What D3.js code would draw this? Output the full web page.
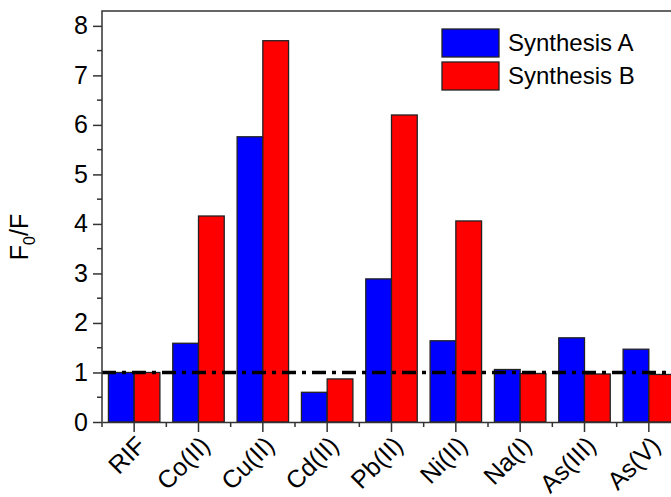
<!DOCTYPE html>
<html>
<head>
<meta charset="utf-8">
<script src="https://d3js.org/d3.v7.min.js"></script>
<style>
  body { margin: 0; background: #fff; }
  svg text { font-family: "Liberation Sans", Arial, sans-serif; fill: #000; }
</style>
</head>
<body>
<div id="chart"></div>
<script>
  // values
  const categories = ["RIF", "Co(II)", "Cu(II)", "Cd(II)", "Pb(II)", "Ni(II)", "Na(I)", "As(III)", "As(V)"];
  const synthesisA = [1.0, 1.59, 5.76, 0.60, 2.89, 1.64, 1.06, 1.70, 1.47];
  const synthesisB = [1.0, 4.16, 7.70, 0.87, 6.20, 4.06, 0.98, 0.97, 0.96];
  const seriesNames = ["Synthesis A", "Synthesis B"];
  const seriesColors = ["#0000ff", "#ff0000"];
  const yTicks = [0, 1, 2, 3, 4, 5, 6, 7, 8];
  const refLine = 1;

  const W = 671, H = 497;
  const mLeft = 102, mTop = 11, mRight = 681, mBottom = 422;

  const svg = d3.select("#chart").append("svg")
    .attr("width", W).attr("height", H);

  const x = d3.scaleBand().domain(categories).range([mLeft, mRight]).padding(0);
  const y = d3.scaleLinear().domain([0, 8.3]).range([mBottom, mTop]);
  const barW = x.bandwidth() * 0.4;

  // bars
  const series = [synthesisA, synthesisB];
  series.forEach((vals, s) => {
    svg.append("g").selectAll("rect")
      .data(vals)
      .enter().append("rect")
      .attr("x", (d, i) => x(categories[i]) + x.bandwidth() / 2 - barW + s * barW)
      .attr("y", d => y(d))
      .attr("width", barW)
      .attr("height", d => y(0) - y(d))
      .attr("fill", seriesColors[s])
      .attr("stroke", "#222")
      .attr("stroke-width", 1.3);
  });

  // reference line
  svg.append("line")
    .attr("x1", mLeft).attr("x2", W)
    .attr("y1", y(refLine)).attr("y2", y(refLine))
    .attr("stroke", "#000").attr("stroke-width", 3.5)
    .attr("stroke-dasharray", "14,6,4,6");

  // frame
  svg.append("path")
    .attr("d", `M${mLeft},${mBottom}V${mTop}H${W + 5}`)
    .attr("fill", "none").attr("stroke", "#333").attr("stroke-width", 1.5);

  // y axis
  const yAxis = svg.append("g")
    .attr("transform", `translate(${mLeft},0)`)
    .call(d3.axisLeft(y).tickValues(yTicks).tickSize(9).tickPadding(5).tickFormat(d3.format("d")));
  yAxis.select(".domain").remove();
  yAxis.selectAll("line").attr("stroke", "#333").attr("stroke-width", 1.5);
  yAxis.selectAll("text").style("font-size", "25px");
  const minorY = d3.range(0.5, 8.3, 1);
  svg.append("g").selectAll("line").data(minorY).enter().append("line")
    .attr("x1", mLeft - 5).attr("x2", mLeft)
    .attr("y1", d => y(d)).attr("y2", d => y(d))
    .attr("stroke", "#333").attr("stroke-width", 1.5);

  // x axis
  const xAxis = svg.append("g")
    .attr("transform", `translate(0,${mBottom})`)
    .call(d3.axisBottom(x).tickSize(10).tickSizeOuter(0));
  xAxis.select(".domain").attr("stroke", "#333").attr("stroke-width", 1.5);
  xAxis.selectAll("line").attr("stroke", "#333").attr("stroke-width", 1.5);
  xAxis.selectAll("text")
    .style("font-size", "25px")
    .attr("text-anchor", "end")
    .attr("x", 0).attr("y", 0).attr("dy", 0)
    .attr("transform", "translate(13,25) rotate(-45)");
  svg.append("g").selectAll("line").data(categories).enter().append("line")
    .attr("x1", d => x(d)).attr("x2", d => x(d))
    .attr("y1", mBottom).attr("y2", mBottom + 5)
    .attr("stroke", "#333").attr("stroke-width", 1.5);

  // y label
  const yl = svg.append("text")
    .attr("transform", `translate(28,237) rotate(-90)`)
    .attr("text-anchor", "middle")
    .style("font-size", "25px");
  yl.append("tspan").text("F");
  yl.append("tspan").text("0").attr("dy", 7).style("font-size", "16px");
  yl.append("tspan").text("/F").attr("dy", -7);

  // legend
  const lg = svg.append("g").attr("transform", "translate(442,29)");
  seriesNames.forEach((n, i) => {
    lg.append("rect")
      .attr("x", 0).attr("y", i * 33)
      .attr("width", 57).attr("height", 28)
      .attr("fill", seriesColors[i]).attr("stroke", "#222").attr("stroke-width", 1.3);
    lg.append("text")
      .attr("x", 66).attr("y", i * 33 + 14)
      .attr("dy", "0.35em")
      .style("font-size", "24px")
      .text(n);
  });
</script>
</body>
</html>
